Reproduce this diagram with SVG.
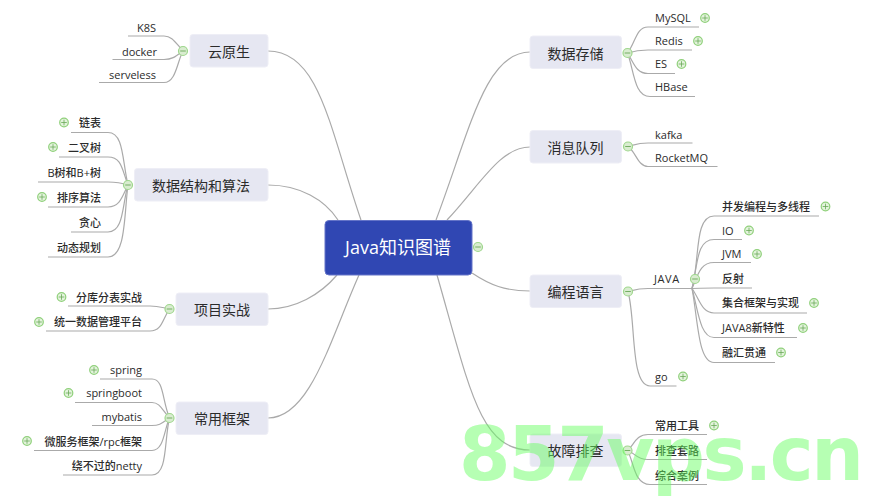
<svg xmlns="http://www.w3.org/2000/svg" width="876" height="500" viewBox="0 0 876 500">
<style>
text{font-family:"Open Sans","Noto Sans CJK SC",sans-serif;fill:#2b2b2b}
.m{font-size:14px;text-anchor:middle;font-family:"Noto Sans CJK SC",sans-serif}
.l{font-size:11px;text-anchor:end;font-weight:500}
.r{font-size:11px;text-anchor:start;font-weight:500}
.b{fill:#e6e7f2;stroke:#eeeef6;stroke-width:1}
.c path{fill:none;stroke:#aaa;stroke-width:1.2}
</style>
<defs>
<g id="plus"><circle r="4.3" fill="#e3f3dc" stroke="#8fd07a" stroke-width="1.2"/><path d="M-2.8 0H2.8M0-2.8V2.8" stroke="#6aa858" stroke-width="0.8"/></g>
<g id="minus"><circle r="4.500" fill="#d9ecd0" stroke="#9ed78c" stroke-width="1.2"/><path d="M-2.8 0H2.8" stroke="#6aa858" stroke-width="0.9"/></g>
</defs>
<rect width="876" height="500" fill="#fff"/>
<g id="connectors" class="c">
<path d="M268 51C320 51 330 130 361 220"/>
<path d="M268 185C300 185 325 200 338 220"/>
<path d="M268 309C295 309 320 295 337 275"/>
<path d="M268 418C310 418 330 340 359 275"/>
<path d="M530 52C485 52 470 130 436 220"/>
<path d="M530 147C500 147 480 185 447 220"/>
<path d="M530 291C505 291 490 285 472 273"/>
<path d="M530 450C480 450 470 390 437 275"/>
<path d="M183 51C175 42 172 36 164 36H128"/>
<path d="M183 51C175 57 172 59.500 164 59.500H112.500"/>
<path d="M183 51C177 62 176 82.500 164 82.500H99"/>
<path d="M128 185C122 160 124 132.500 108 132.500H71"/>
<path d="M128 185C122 170 122 157 108 157H59"/>
<path d="M128 185C122 183 118 182 108 182H38"/>
<path d="M128 185C122 197 120 207 108 207H48"/>
<path d="M128 185C122 205 124 232 108 232H71"/>
<path d="M128 185C124 215 126 257 108 257H48"/>
<path d="M169.500 309C160 307 158 306 150 306H68"/>
<path d="M169.500 309C162 320 162 331 150 331H46"/>
<path d="M169.500 418C162 400 164 379 152 379H100"/>
<path d="M169.500 418C162 410 160 402.500 152 402.500H75"/>
<path d="M169.500 418C162 423 160 425.500 152 425.500H92"/>
<path d="M169.500 418C164 430 164 450.500 152 450.500H34"/>
<path d="M169.500 418C164 440 168 475 152 475H63"/>
<path d="M627.500 53C636 42 636 27 648 27H699"/>
<path d="M627.500 53C634 51 638 50 648 50H692"/>
<path d="M627.500 53C634 63 636 73.500 648 73.500H675"/>
<path d="M627.500 53C634 70 634 96.500 650 96.500H695"/>
<path d="M628 146.500C634 145 638 143 648 143H692.500"/>
<path d="M628 146.500C636 152 638 166.500 648 166.500H717.500"/>
<path d="M628 291.500C634 290 638 288.500 648 288.500H692"/>
<path d="M628 291.500C636 320 630 386 650 386H676.500"/>
<path d="M692 288.500C700 260 694 216 714 216H819"/>
<path d="M692 288.500C698 265 696 239.500 714 239.500H742"/>
<path d="M692 288.500C698 275 700 262.500 714 262.500H751"/>
<path d="M692 288.500C698 288 704 288 714 288H752"/>
<path d="M692 288.500C700 300 702 313 714 313H807"/>
<path d="M692 288.500C698 310 700 337.500 714 337.500H797"/>
<path d="M692 288.500C698 320 698 362.500 714 362.500H775"/>
<path d="M627.500 450.500C634 445 636 434.500 648 434.500H707"/>
<path d="M627.500 450.500C634 452 636 459.500 648 459.500H707"/>
<path d="M627.500 450.500C634 462 634 484.500 650 484.500H707"/>
</g>
<g id="root"><rect x="325" y="220.500" width="147" height="54.500" rx="4" fill="#3047b3" stroke="#6474c8"/><text x="398" y="254" font-size="18" text-anchor="middle" style="fill:#fff">Java知识图谱</text><use href="#minus" x="478" y="247"/></g>
<g id="n-cloud"><rect class="b" x="190" y="34.500" width="78" height="32.500" rx="3"/><text class="m" x="229" y="56.500">云原生</text><use href="#minus" x="183" y="51"/>
<text class="l" x="156" y="32">K8S</text><text class="l" x="157" y="55.500">docker</text><text class="l" x="156" y="78.500">serveless</text></g>
<g id="n-algo"><rect class="b" x="134.500" y="168.500" width="133.500" height="32.500" rx="3"/><text class="m" x="201" y="190.500">数据结构和算法</text><use href="#minus" x="128" y="185"/>
<text class="l" x="101" y="127">链表</text><use href="#plus" x="64" y="122.500"/>
<text class="l" x="101" y="151.500">二叉树</text><use href="#plus" x="53" y="147"/>
<text class="l" x="101" y="176.500">B树和B+树</text>
<text class="l" x="101" y="201.500">排序算法</text><use href="#plus" x="42" y="197"/>
<text class="l" x="101" y="226.500">贪心</text>
<text class="l" x="101" y="251.500">动态规划</text></g>
<g id="n-project"><rect class="b" x="176" y="293" width="92" height="32.500" rx="3"/><text class="m" x="222" y="314.500">项目实战</text><use href="#minus" x="169.500" y="309"/>
<text class="l" x="142" y="301.500">分库分表实战</text><use href="#plus" x="61.500" y="297"/>
<text class="l" x="142" y="326">统一数据管理平台</text><use href="#plus" x="39" y="322"/></g>
<g id="n-frame"><rect class="b" x="176" y="402" width="92" height="32.500" rx="3"/><text class="m" x="222" y="423.500">常用框架</text><use href="#minus" x="169.500" y="418"/>
<text class="l" x="142" y="374">spring</text><use href="#plus" x="94" y="370"/>
<text class="l" x="142" y="397">springboot</text><use href="#plus" x="68.500" y="393"/>
<text class="l" x="142" y="420.500">mybatis</text>
<text class="l" x="142" y="445.500">微服务框架/rpc框架</text><use href="#plus" x="27" y="441"/>
<text class="l" x="142" y="470">绕不过的netty</text></g>
<g id="n-store"><rect class="b" x="530" y="36" width="91.500" height="32.500" rx="3"/><text class="m" x="575.500" y="58.500">数据存储</text><use href="#minus" x="627.500" y="53"/>
<text class="r" x="655" y="22">MySQL</text><use href="#plus" x="705" y="18"/>
<text class="r" x="655" y="45">Redis</text><use href="#plus" x="698" y="41"/>
<text class="r" x="655" y="68">ES</text><use href="#plus" x="681.500" y="64"/>
<text class="r" x="655" y="91">HBase</text></g>
<g id="n-mq"><rect class="b" x="530" y="130.500" width="91.500" height="32.500" rx="3"/><text class="m" x="575.500" y="152.500">消息队列</text><use href="#minus" x="628" y="146.500"/>
<text class="r" x="655" y="139">kafka</text>
<text class="r" x="655" y="162">RocketMQ</text></g>
<g id="n-lang"><rect class="b" x="530" y="275" width="91.500" height="32.500" rx="3"/><text class="m" x="575.500" y="297">编程语言</text><use href="#minus" x="628" y="291.500"/>
<text class="r" x="654" y="283" letter-spacing=".6">JAVA</text><use href="#minus" x="695" y="279"/>
<text class="r" x="655" y="381">go</text><use href="#plus" x="683" y="376.500"/>
<text class="r" x="722" y="210.500">并发编程与多线程</text><use href="#plus" x="825.500" y="206.500"/>
<text class="r" x="722" y="234.500">IO</text><use href="#plus" x="749" y="230.500"/>
<text class="r" x="722" y="258">JVM</text><use href="#plus" x="757" y="254"/>
<text class="r" x="722" y="282.500">反射</text>
<text class="r" x="722" y="307">集合框架与实现</text><use href="#plus" x="814" y="303"/>
<text class="r" x="722" y="332">JAVA8新特性</text><use href="#plus" x="803" y="328"/>
<text class="r" x="722" y="357">融汇贯通</text><use href="#plus" x="781" y="352.500"/></g>
<g id="n-debug"><rect class="b" x="530" y="434" width="91.500" height="32.500" rx="3"/><text class="m" x="575.500" y="456">故障排查</text><use href="#minus" x="627.500" y="450.500"/>
<text class="r" x="655" y="429.500">常用工具</text><use href="#plus" x="714" y="425.500"/>
<text class="r" x="655" y="455">排查套路</text>
<text class="r" x="655" y="480">综合案例</text></g>
<text id="watermark" x="459" y="480" font-size="74" font-weight="700" textLength="405" lengthAdjust="spacing" style="font-family:'DejaVu Sans',sans-serif;fill:#66ff60;fill-opacity:.48">857vps.cn</text>
</svg>
